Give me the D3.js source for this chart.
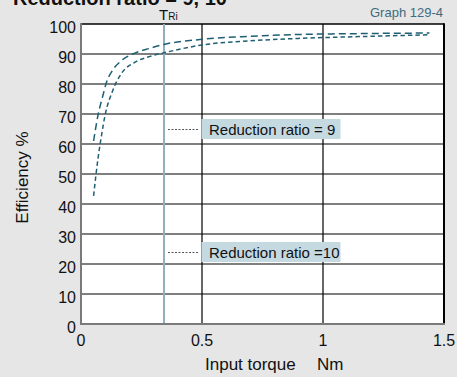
<!DOCTYPE html>
<html><head><meta charset="utf-8">
<script src="https://cdn.jsdelivr.net/npm/d3@7"></script>
<style>
html,body{margin:0;padding:0;background:#e6e6e6;}
svg{display:block;font-family:"Liberation Sans",Arial,sans-serif;}
</style></head>
<body>
<svg id="c" width="457" height="377"></svg>
<script>
const xTicks = [0, 0.5, 1, 1.5];
const xTickLabels = ["0", "0.5", "1", "1.5"];
const yTicks = [0, 10, 20, 30, 40, 50, 60, 70, 80, 90, 100];
const tRi = 0.343;
const ratio9X = [0.052, 0.07, 0.09, 0.105, 0.13, 0.167, 0.222, 0.285, 0.343, 0.5, 0.7, 0.9, 1.15, 1.44];
const ratio9Y = [61, 69.5, 76, 80.5, 84.5, 87.8, 90.3, 91.9, 93.2, 94.9, 95.9, 96.5, 96.8, 97.0];
const ratio10X = [0.052, 0.07, 0.085, 0.098, 0.132, 0.167, 0.222, 0.285, 0.343, 0.5, 0.7, 0.9, 1.15, 1.44];
const ratio10Y = [42.7, 55, 63, 69, 78, 83.5, 87.2, 89.2, 90.4, 93.0, 94.4, 95.2, 95.8, 96.4];
const legendLabels = ["Reduction ratio = 9", "Reduction ratio =10"];
const legendY = [65, 24];

const svg = d3.select("#c");
const L = 81, R = 444, T = 24, B = 324;
const x = d3.scaleLinear().domain([0, 1.5]).range([L, R]);
const y = d3.scaleLinear().domain([0, 100]).range([B, T]);

// title (cut off at the top edge, as in the reference)
svg.append("text").attr("x", 13).attr("y", 4.5).attr("font-size", 20).attr("font-weight", "bold")
  .attr("fill", "#111").text("Reduction ratio = 9, 10");
svg.append("text").attr("x", 443).attr("y", 17).attr("text-anchor", "end").attr("font-size", 13)
  .attr("fill", "#3e6b7d").text("Graph 129-4");

// plot bg
svg.append("rect").attr("x", L).attr("y", T).attr("width", R - L).attr("height", B - T).attr("fill", "#fff");

// grid
svg.append("g").selectAll("line").data(yTicks.filter(d => d > 0)).join("line")
  .attr("x1", L).attr("x2", R).attr("y1", d => y(d)).attr("y2", d => y(d))
  .attr("stroke", "#000").attr("stroke-width", d => d === 100 ? 1.5 : 1.2);
svg.append("g").selectAll("line").data(xTicks.filter(d => d > 0 && d < 1.5)).join("line")
  .attr("x1", d => x(d)).attr("x2", d => x(d)).attr("y1", T).attr("y2", B)
  .attr("stroke", "#000").attr("stroke-width", 1.2);
svg.append("line").attr("x1", R).attr("x2", R).attr("y1", T - 0.75).attr("y2", B)
  .attr("stroke", "#000").attr("stroke-width", 2);

// T_Ri line
svg.append("line").attr("x1", x(tRi)).attr("x2", x(tRi)).attr("y1", T).attr("y2", B)
  .attr("stroke", "#8fb0bd").attr("stroke-width", 2);
const tt = svg.append("text").attr("x", x(tRi) - 5).attr("y", 19.5).attr("fill", "#111");
tt.append("tspan").attr("font-size", 15).text("T");
tt.append("tspan").attr("font-size", 10).text("Ri");

// axes frame
svg.append("line").attr("x1", L).attr("x2", L).attr("y1", T - 1).attr("y2", B + 1)
  .attr("stroke", "#7a7a7a").attr("stroke-width", 2);
svg.append("line").attr("x1", L - 1).attr("x2", R + 1).attr("y1", B).attr("y2", B)
  .attr("stroke", "#7a7a7a").attr("stroke-width", 2);

// curves
const line = d3.line().x(d => x(d[0])).y(d => y(d[1])).curve(d3.curveMonotoneX);
svg.append("path").datum(ratio9X.map((v, i) => [v, ratio9Y[i]])).attr("d", line)
  .attr("fill", "none").attr("stroke", "#1f5f73").attr("stroke-width", 1.5).attr("stroke-dasharray", "7,4");
svg.append("path").datum(ratio10X.map((v, i) => [v, ratio10Y[i]])).attr("d", line)
  .attr("fill", "none").attr("stroke", "#1f5f73").attr("stroke-width", 1.5).attr("stroke-dasharray", "4.5,3");

// legends
legendLabels.forEach((lab, i) => {
  const cy = y(legendY[i]);
  svg.append("line").attr("x1", 168).attr("x2", 199).attr("y1", cy + 0.5).attr("y2", cy + 0.5)
    .attr("stroke", "#555").attr("stroke-width", 1).attr("stroke-dasharray", "2,1.5");
  svg.append("rect").attr("x", 201.5).attr("y", cy - 10).attr("width", 139).attr("height", 20).attr("fill", "#c5d9e1");
  svg.append("text").attr("x", 209).attr("y", cy + 5.5).attr("font-size", 15).attr("fill", "#111").text(lab);
});

// tick labels
svg.append("g").selectAll("text").data(yTicks).join("text")
  .attr("x", 76).attr("y", d => y(d) + 8.5).attr("text-anchor", "end").attr("font-size", 16)
  .attr("fill", "#111").text(d => d);
svg.append("g").selectAll("text").data(xTicks).join("text")
  .attr("x", d => x(d)).attr("y", 346).attr("text-anchor", "middle").attr("font-size", 16)
  .attr("fill", "#111").text((d, i) => xTickLabels[i]);

// axis titles
svg.append("text").attr("x", 205).attr("y", 370).attr("font-size", 17)
  .attr("fill", "#111").text("Input torque");
svg.append("text").attr("x", 317).attr("y", 370).attr("font-size", 17)
  .attr("fill", "#111").text("Nm");
svg.append("text").attr("transform", "translate(28,177.5) rotate(-90)").attr("text-anchor", "middle")
  .attr("font-size", 17).attr("fill", "#111").text("Efficiency %");
</script>
</body></html>
